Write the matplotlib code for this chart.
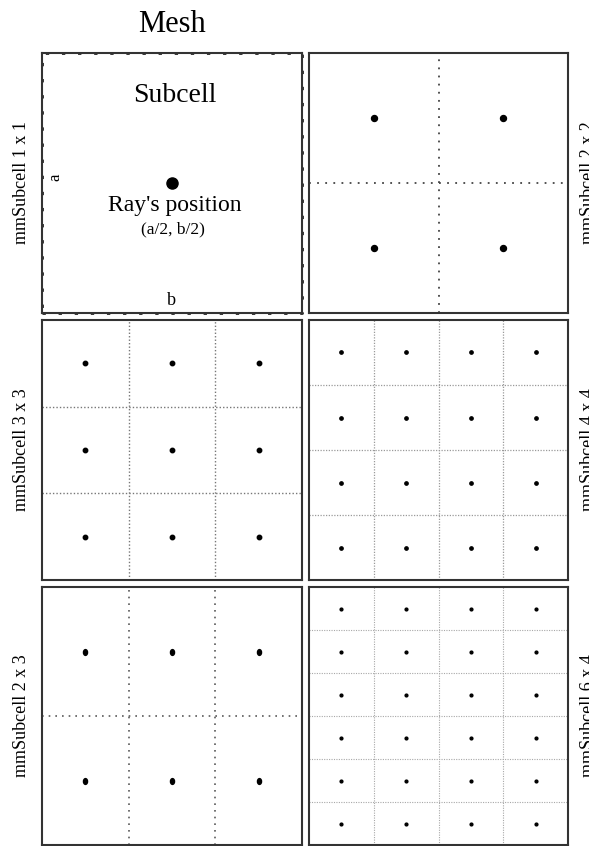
import matplotlib
matplotlib.use('Agg')
import matplotlib.pyplot as plt
from matplotlib.markers import MarkerStyle
from matplotlib.transforms import Affine2D

plt.rcParams['font.family'] = ['Liberation Serif', 'DejaVu Serif']

# mesh layouts: rows x cols of subcells, one panel each
labels = ['mmSubcell 1 x 1', 'mmSubcell 2 x 2', 'mmSubcell 3 x 3',
          'mmSubcell 4 x 4', 'mmSubcell 2 x 3', 'mmSubcell 6 x 4']
n_rows = [1, 2, 3, 4, 2, 6]
n_cols = [1, 2, 3, 4, 3, 4]
title = 'Mesh'

W, H = 589, 846
fig = plt.figure(figsize=(W / 100, H / 100), dpi=100)

# panel boxes in pixels (left, top, width, height)
boxes = [(42, 53, 260, 260), (309, 53, 259, 260),
         (42, 320, 260, 260), (309, 320, 259, 260),
         (42, 587, 260, 258), (309, 587, 259, 258)]
dot_size = [8, 4.3, 3.2, 2.4, 4.2, 2.0]
grid_col = ['k', '#444444', '#777777', '#9a9a9a', '#5a5a5a', '#a8a8a8']
grid_lw = [1, 1.3, 1.0, 0.9, 1.2, 0.8]
grid_ls = ['-', (0, (1, 3.5)), (0, (1, 1.5)), (0, (1, 1.2)), (0, (1, 3.0)), (0, (1, 1.2))]

for i, (l, t, w, h) in enumerate(boxes):
    ax = fig.add_axes([l / W, 1 - (t + h) / H, w / W, h / H])
    r, c = n_rows[i], n_cols[i]
    ax.set_xlim(0, c)
    ax.set_ylim(0, r)
    ax.set_xticks([])
    ax.set_yticks([])
    for s in ax.spines.values():
        s.set_color('#333333')
        s.set_linewidth(1.5)

    for k in range(1, c):
        ax.axvline(k, color=grid_col[i], lw=grid_lw[i], ls=grid_ls[i])
    for k in range(1, r):
        ax.axhline(k, color=grid_col[i], lw=grid_lw[i], ls=grid_ls[i])

    xs = [x + 0.5 for y in range(r) for x in range(c)]
    ys = [y + 0.5 for y in range(r) for x in range(c)]
    if labels[i] == 'mmSubcell 2 x 3':
        mk = MarkerStyle('o', transform=Affine2D().scale(0.7, 1.0))
    else:
        mk = 'o'
    ax.plot(xs, ys, ls='none', marker=mk, ms=dot_size[i], color='k')

    yc = 1 - (t + h / 2) / H
    if i % 2 == 0:
        fig.text(22 / W, yc, labels[i], rotation=90, ha='center', va='center', fontsize=13)
    else:
        # the right-hand labels run off the edge of the original picture
        fig.text(580 / W, yc, labels[i], rotation=90, ha='left', va='center', fontsize=13)

    if i == 0:
        # dashed outline of the single subcell
        ax.plot([0, 1, 1, 0, 0], [0, 0, 1, 1, 0], color='#222222', lw=2,
                ls=(0, (1.2, 4.6)), clip_on=False)
        ax.text(0.51, 0.81, 'Subcell', transform=ax.transAxes, ha='center', va='baseline', fontsize=20)
        ax.text(0.51, 0.393, "Ray's position", transform=ax.transAxes, ha='center', va='baseline', fontsize=17)
        ax.text(0.505, 0.308, '(a/2, b/2)', transform=ax.transAxes, ha='center', va='baseline', fontsize=12.5)
        ax.text(0.05, 0.52, 'a', transform=ax.transAxes, rotation=90, ha='center', va='center', fontsize=12)
        ax.text(0.496, 0.03, 'b', transform=ax.transAxes, ha='center', va='baseline', fontsize=13)

fig.text(172 / W, 1 - 32 / H, title, ha='center', va='baseline', fontsize=22)

fig.savefig('out.png', dpi=100)
